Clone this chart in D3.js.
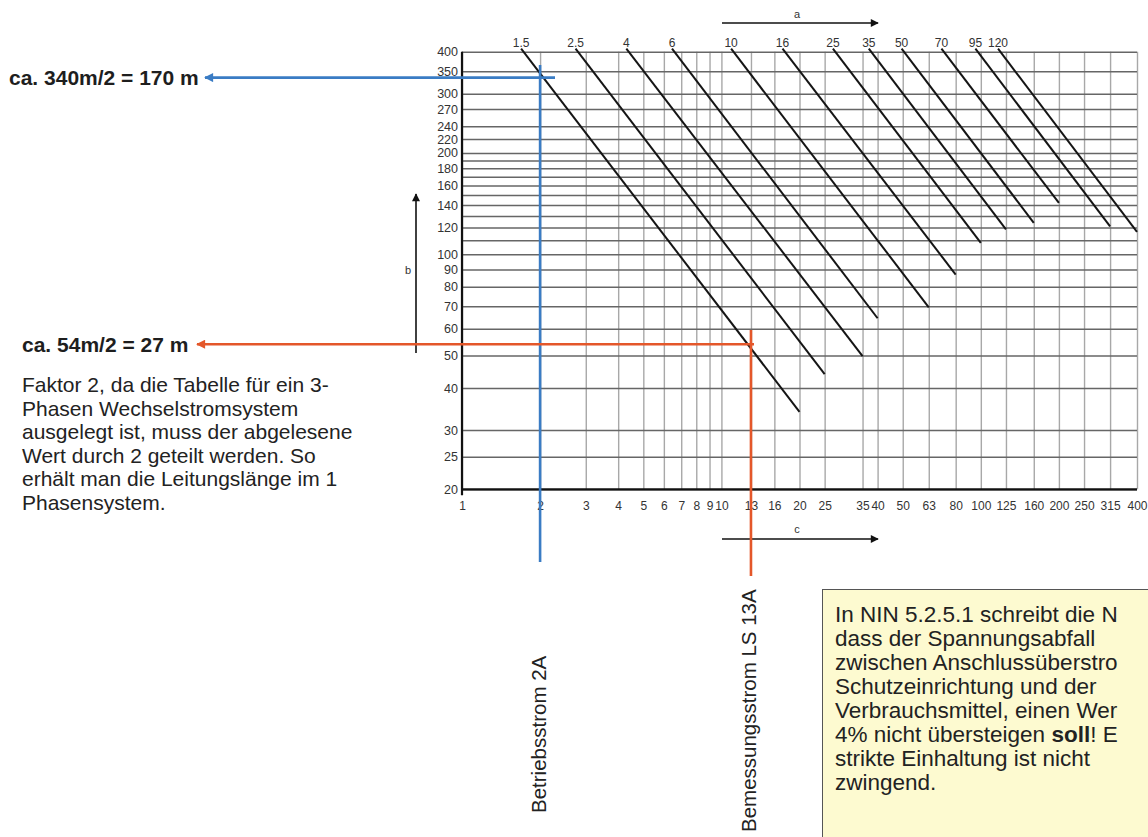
<!DOCTYPE html>
<html>
<head>
<meta charset="utf-8">
<script src="https://cdn.jsdelivr.net/npm/d3@7"></script>
<style>
  html, body { margin: 0; padding: 0; background: #fff; }
  svg { display: block; font-family: "Liberation Sans", Arial, sans-serif; }
</style>
</head>
<body>
<svg id="chart" width="1148" height="837"></svg>
<script>
// ---------- data ----------
const sections        = ["1.5","2.5","4","6","10","16","25","35","50","70","95","120"];
const lineTopCurrent  = [1.69, 2.74, 4.3, 6.45, 10.9, 17.2, 26.9, 37.0, 49.5, 70.5, 95.3, 116.5]; // where each line meets length 400
const lineEndCurrent  = [20, 25, 35, 40, 63, 80, 100, 125, 160, 200, 315, 400];
const lineEndLength   = [34, 44, 49.8, 64.5, 69.5, 87, 108, 118.5, 124, 142, 121, 116.5];

const xTickValues = [1,2,3,4,5,6,7,8,9,10,13,16,20,25,35,40,50,63,80,100,125,160,200,250,315,400];
const xTickLabels = ["1","2","3","4","5","6","7","8","9","10","13","16","20","25","35","40","50","63","80","100","125","160","200","250","315","400"];
const yTickValues = [20,25,30,40,50,60,70,80,90,100,120,140,160,180,200,220,240,270,300,350,400];
const yTickLabels = ["20","25","30","40","50","60","70","80","90","100","120","140","160","180","200","220","240","270","300","350","400"];
const yMinorGrid  = [110,130,150,170,190];

const blueCurrent = 2,   blueLength = 335;
const orangeCurrent = 13, orangeLength = 54;

const blueText   = "ca. 340m/2 = 170 m";
const orangeText = "ca. 54m/2 = 27 m";
const noteLines = ["Faktor 2, da die Tabelle für ein 3-","Phasen Wechselstromsystem","ausgelegt ist, muss der abgelesene","Wert durch 2 geteilt werden. So","erhält man die Leitungslänge im 1","Phasensystem."];
const blueLabel   = "Betriebsstrom 2A";
const orangeLabel = "Bemessungsstrom LS 13A";
const boxLines = [
  [["In NIN 5.2.5.1 schreibt die N", false]],
  [["dass der Spannungsabfall", false]],
  [["zwischen Anschlussüberstro", false]],
  [["Schutzeinrichtung und der", false]],
  [["Verbrauchsmittel, einen Wer", false]],
  [["4% nicht übersteigen ", false], ["soll", true], ["! E", false]],
  [["strikte Einhaltung ist nicht", false]],
  [["zwingend.", false]]
];

// ---------- drawing ----------
const svg = d3.select("#chart");
const BLUE = "#3a7cc4", ORANGE = "#e4572a";

const x = d3.scaleLog().domain([1, 400]).range([462, 1137]);
const y = d3.scaleLog().domain([20, 400]).range([489.3, 51.7]);

const defs = svg.append("defs");
function marker(id, color, w, h) {
  defs.append("marker").attr("id", id)
    .attr("viewBox", "0 0 10 10").attr("refX", 9).attr("refY", 5)
    .attr("markerWidth", w).attr("markerHeight", h).attr("markerUnits", "userSpaceOnUse")
    .attr("orient", "auto")
    .append("path").attr("d", "M0,0 L10,5 L0,10 Z").attr("fill", color);
}
marker("arrBlue", BLUE, 12, 9);
marker("arrOrange", ORANGE, 12, 9);
marker("arrBlack", "#111", 10, 8);

// vertical grid
svg.append("g")
  .attr("transform", `translate(0,${y(20)})`)
  .call(d3.axisBottom(x).tickValues(xTickValues).tickSize(-(y(20) - y(400))).tickFormat(""))
  .call(g => g.select(".domain").remove())
  .call(g => g.selectAll("line").attr("stroke", "#a8a8a8").attr("stroke-width", 1.4));

// horizontal grid
svg.append("g")
  .attr("transform", `translate(${x(1)},0)`)
  .call(d3.axisLeft(y).tickValues(yTickValues.concat(yMinorGrid)).tickSize(-(x(400) - x(1))).tickFormat(""))
  .call(g => g.select(".domain").remove())
  .call(g => g.selectAll("line").attr("stroke", "#666").attr("stroke-width", 1.5));

// axis lines (black left and bottom)
svg.append("line").attr("x1", x(1)).attr("x2", x(1)).attr("y1", y(400)).attr("y2", y(20) + 6)
  .attr("stroke", "#111").attr("stroke-width", 2.2);
svg.append("line").attr("x1", x(1)).attr("x2", x(400)).attr("y1", y(20)).attr("y2", y(20))
  .attr("stroke", "#111").attr("stroke-width", 2.2);

// tick labels
const yAx = svg.append("g").attr("transform", `translate(${x(1) - 3},0)`)
  .call(d3.axisLeft(y).tickValues(yTickValues).tickSize(0).tickPadding(1)
    .tickFormat(d => yTickLabels[yTickValues.indexOf(d)]));
yAx.select(".domain").remove();
yAx.selectAll("text").attr("font-size", 12.5).attr("fill", "#333")
  .attr("font-family", "Liberation Sans, Arial, sans-serif");

const xAx = svg.append("g").attr("transform", `translate(0,${y(20) + 12})`)
  .call(d3.axisBottom(x).tickValues(xTickValues).tickSize(0).tickPadding(0)
    .tickFormat(d => xTickLabels[xTickValues.indexOf(d)]));
xAx.select(".domain").remove();
xAx.selectAll("text").attr("font-size", 12).attr("fill", "#333")
  .attr("font-family", "Liberation Sans, Arial, sans-serif");

// diagonal cross-section lines
const lines = sections.map((s, i) => ({ s, x0: lineTopCurrent[i], y0: 400, x1: lineEndCurrent[i], y1: lineEndLength[i] }));
svg.append("g").selectAll("line").data(lines).join("line")
  .attr("x1", d => x(d.x0)).attr("y1", d => y(d.y0) - 3)
  .attr("x2", d => x(d.x1)).attr("y2", d => y(d.y1))
  .attr("stroke", "#151515").attr("stroke-width", 2);
svg.append("g").selectAll("text").data(lines).join("text")
  .attr("x", d => x(d.x0)).attr("y", y(400) - 5)
  .attr("text-anchor", "middle").attr("font-size", 12).attr("fill", "#333")
  .text(d => d.s);

// a / b / c arrows
svg.append("line").attr("x1", 722).attr("x2", 878).attr("y1", 23).attr("y2", 23)
  .attr("stroke", "#111").attr("stroke-width", 1.6).attr("marker-end", "url(#arrBlack)");
svg.append("text").attr("x", 797).attr("y", 18).attr("font-size", 11).attr("fill", "#333").attr("text-anchor", "middle").text("a");
svg.append("line").attr("x1", 722).attr("x2", 878).attr("y1", 539).attr("y2", 539)
  .attr("stroke", "#111").attr("stroke-width", 1.6).attr("marker-end", "url(#arrBlack)");
svg.append("text").attr("x", 797).attr("y", 533).attr("font-size", 11).attr("fill", "#333").attr("text-anchor", "middle").text("c");
svg.append("line").attr("x1", 416).attr("x2", 416).attr("y1", 353).attr("y2", 194)
  .attr("stroke", "#111").attr("stroke-width", 1.6).attr("marker-end", "url(#arrBlack)");
svg.append("text").attr("x", 408).attr("y", 274).attr("font-size", 11).attr("fill", "#333").attr("text-anchor", "middle").text("b");

// blue reading
svg.append("line").attr("x1", 555).attr("x2", 205).attr("y1", y(blueLength)).attr("y2", y(blueLength))
  .attr("stroke", BLUE).attr("stroke-width", 2.6).attr("marker-end", "url(#arrBlue)");
svg.append("line").attr("x1", x(blueCurrent)).attr("x2", x(blueCurrent)).attr("y1", 65).attr("y2", 562)
  .attr("stroke", BLUE).attr("stroke-width", 2.6);

// orange reading
svg.append("line").attr("x1", 754).attr("x2", 197).attr("y1", y(orangeLength)).attr("y2", y(orangeLength))
  .attr("stroke", ORANGE).attr("stroke-width", 2.6).attr("marker-end", "url(#arrOrange)");
svg.append("line").attr("x1", x(orangeCurrent)).attr("x2", x(orangeCurrent)).attr("y1", 330).attr("y2", 576)
  .attr("stroke", ORANGE).attr("stroke-width", 2.6);

// left texts
svg.append("text").attr("x", 9).attr("y", y(blueLength) + 7).attr("font-size", 21).attr("font-weight", "bold")
  .attr("fill", "#1e1e1e").text(blueText);
svg.append("text").attr("x", 22).attr("y", y(orangeLength) + 8).attr("font-size", 21).attr("font-weight", "bold")
  .attr("fill", "#1e1e1e").text(orangeText);
svg.append("g").selectAll("text").data(noteLines).join("text")
  .attr("x", 22).attr("y", (d, i) => 392 + i * 23.6)
  .attr("font-size", 21).attr("fill", "#222").text(d => d);

// rotated labels
svg.append("text").attr("transform", "translate(546,813) rotate(-90)")
  .attr("font-size", 20.5).attr("fill", "#222").text(blueLabel);
svg.append("text").attr("transform", "translate(756,832) rotate(-90)")
  .attr("font-size", 20.5).attr("fill", "#222").text(orangeLabel);

// yellow note box
svg.append("rect").attr("x", 822.5).attr("y", 589.5).attr("width", 400).attr("height", 300)
  .attr("fill", "#fdfad0").attr("stroke", "#555").attr("stroke-width", 1);
const bt = svg.append("g").selectAll("text").data(boxLines).join("text")
  .attr("x", 835).attr("y", (d, i) => 622 + i * 24)
  .attr("font-size", 22.5).attr("fill", "#222");
bt.selectAll("tspan").data(d => d).join("tspan")
  .attr("font-weight", d => d[1] ? "bold" : "normal").text(d => d[0]);
</script>
</body>
</html>
